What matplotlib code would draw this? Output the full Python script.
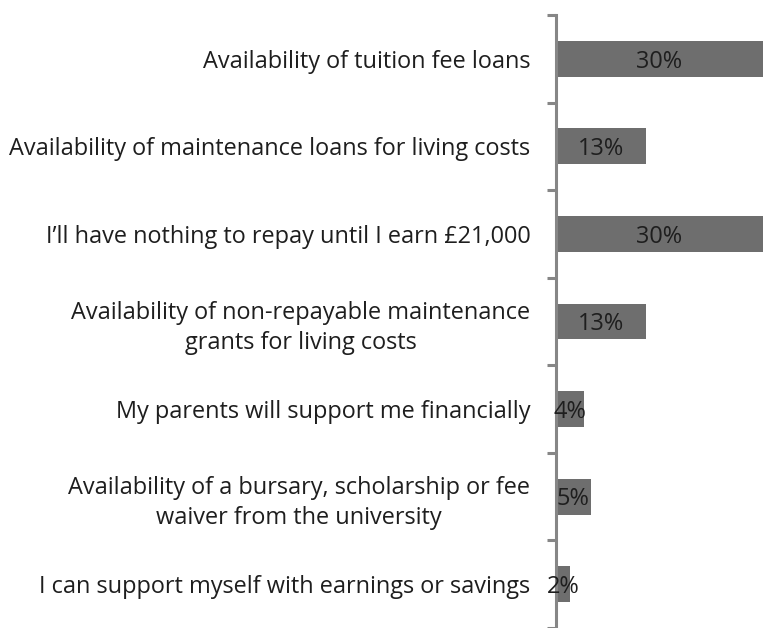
import matplotlib
matplotlib.use("Agg")
import matplotlib.pyplot as plt
import numpy as np

categories = [
    "Availability of tuition fee loans",
    "Availability of maintenance loans for living costs",
    "I\u2019ll have nothing to repay until I earn \u00a321,000",
    "Availability of non-repayable maintenance\ngrants for living costs",
    "My parents will support me financially",
    "Availability of a bursary, scholarship or fee\nwaiver from the university",
    "I can support myself with earnings or savings",
]
values = [30, 13, 30, 13, 4, 5, 2]
value_labels = ["30%", "13%", "30%", "13%", "4%", "5%", "2%"]

plt.rcParams['font.family'] = ['Open Sans', 'DejaVu Sans']

W, H = 763, 628
fig = plt.figure(figsize=(W / 100, H / 100), dpi=100)
left = 556 / W
top_px = 15
ax = fig.add_axes([left, 0, 1 - left, 1 - top_px / H])

y = np.arange(len(categories))
bars = ax.barh(y, values, height=0.41, color="#6e6e6e", zorder=2)
for yi, v, lab in zip(y, values, value_labels):
    ax.annotate(lab, xy=(v / 2, yi), xytext=(0, -2), textcoords='offset points',
                ha='center', va='center', fontsize=16.9, color="#1e1e1e",
                zorder=3, annotation_clip=False)

ax.set_xlim(0, 30)
ax.set_ylim(6.44, -0.5)

for s in ["top", "right", "bottom"]:
    ax.spines[s].set_visible(False)
ax.spines["left"].set_color("#868686")
ax.spines["left"].set_linewidth(2.2)
ax.set_xticks([])

ax.set_yticks(y)
ax.set_yticklabels(categories, fontsize=16.9, color="#1e1e1e",
                   multialignment='center', linespacing=1.35)
ax.tick_params(axis='y', which='major', length=0, pad=18.5)
ax.set_yticks(np.arange(-0.5, len(categories), 1.0), minor=True)
ax.tick_params(axis='y', which='minor', length=6.5, width=2.2,
               color="#868686", direction='out')

fig.savefig("out.png", dpi=100)
